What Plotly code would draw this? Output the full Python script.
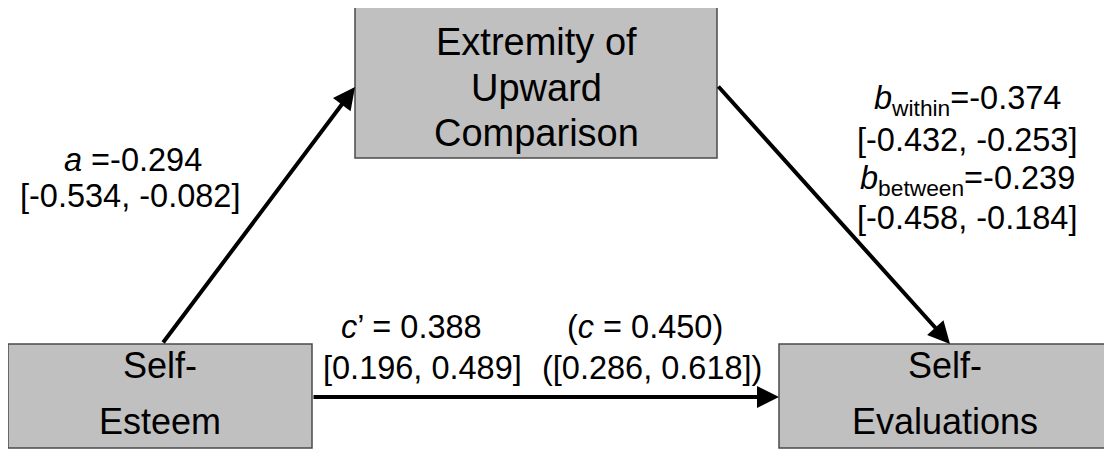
import plotly.graph_objects as go

# ---- data ----
node_names = ["Extremity of Upward Comparison", "Self-Esteem", "Self-Evaluations"]
node_lines = [["Extremity of", "Upward", "Comparison"], ["Self-", "Esteem"], ["Self-", "Evaluations"]]
a_est, a_ci = -0.294, [-0.534, -0.082]
bw_est, bw_ci = -0.374, [-0.432, -0.253]
bb_est, bb_ci = -0.239, [-0.458, -0.184]
cp_est, cp_ci = 0.388, [0.196, 0.489]
c_est, c_ci = 0.450, [0.286, 0.618]

W, H = 1112, 449
OFF = 8  # page body margin in the browser
FONT = "Liberation Sans, Arial, sans-serif"
LAB_FS = 32.5

# box geometry (x0, y0, x1, y1) in page pixel coords (y down)
boxes = [(355, 7, 717, 158), (8, 344, 312, 448), (779, 344, 1110, 448)]
box_fs = [38, 36, 36]
line_y = [[42, 88, 133], [365, 421], [365, 421]]

fig = go.Figure()
fig.add_trace(go.Scatter(x=[OFF, W], y=[OFF, H], mode="markers",
                         marker=dict(opacity=0), hoverinfo="skip", showlegend=False))

shapes = []
annotations = []
for (x0, y0, x1, y1), lines, ys, fs in zip(boxes, node_lines, line_y, box_fs):
    shapes.append(dict(type="rect", xref="x", yref="y", x0=x0, y0=y0, x1=x1, y1=y1,
                       fillcolor="#c0c0c0", line=dict(color="#4a4a4a", width=1.5), layer="below"))
    cx = (x0 + x1) / 2
    for t, yy in zip(lines, ys):
        annotations.append(dict(x=cx, y=yy, xref="x", yref="y", text=t, showarrow=False,
                                font=dict(family=FONT, size=fs, color="black"),
                                xanchor="center", yanchor="middle"))

# arrows: (tail_x, tail_y, head_x, head_y)
arrows = [(162, 344, 355, 87), (717, 85, 950, 344), (312, 397, 779, 397)]
for tx, ty, hx, hy in arrows:
    annotations.append(dict(x=hx, y=hy, ax=tx, ay=ty, xref="x", yref="y", axref="x", ayref="y",
                            text="", showarrow=True, arrowhead=2, arrowsize=1.1,
                            arrowwidth=4, arrowcolor="black", standoff=0, startstandoff=0))

def f(v):
    return f"{v:.3f}"

def ci(c):
    return f"[{f(c[0])}, {f(c[1])}]"

labels = [
    (133, 160, f"<i>a</i> ={f(a_est)}"),
    (130, 196, ci(a_ci)),
    (967, 100, f"<i>b</i><sub>within</sub>={f(bw_est)}"),
    (967, 140, ci(bw_ci)),
    (967, 180, f"<i>b</i><sub>between</sub>={f(bb_est)}"),
    (967, 218, ci(bb_ci)),
    (411, 327, f"<i>c</i>’ = {f(cp_est)}"),
    (422, 368, ci(cp_ci)),
    (645, 327, f"(<i>c</i> = {f(c_est)})"),
    (652, 368, f"({ci(c_ci)})"),
]
for x, y, t in labels:
    annotations.append(dict(x=x, y=y, xref="x", yref="y", text=t, showarrow=False,
                            font=dict(family=FONT, size=LAB_FS, color="black"),
                            xanchor="center", yanchor="middle"))

fig.update_layout(
    width=W - OFF, height=H - OFF, margin=dict(l=0, r=0, t=0, b=0),
    paper_bgcolor="white", plot_bgcolor="white",
    xaxis=dict(range=[OFF, W], visible=False, fixedrange=True),
    yaxis=dict(range=[H, OFF], visible=False, fixedrange=True),
    shapes=shapes, annotations=annotations, showlegend=False,
)
fig.write_html("out.html", config={"displayModeBar": False})
